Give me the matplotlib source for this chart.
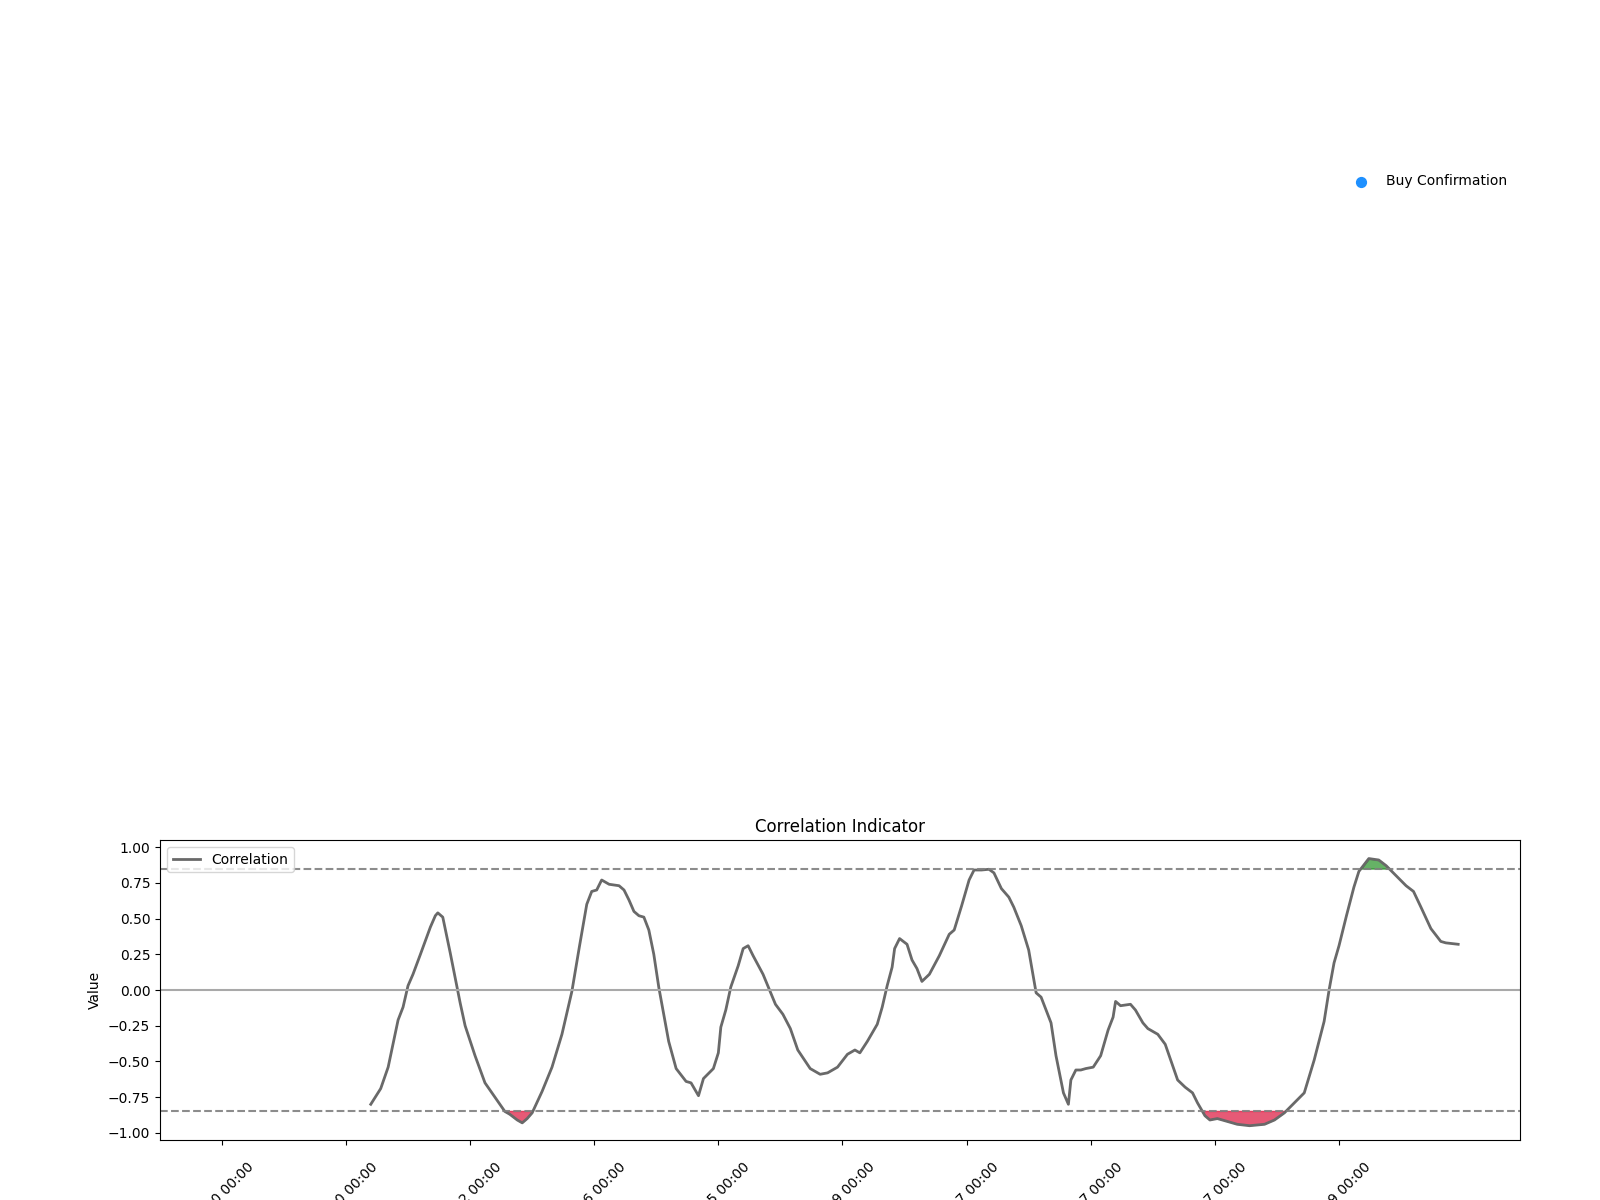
import numpy as np
import matplotlib.pyplot as plt

# ==============================================================================
#                                   DATA
# ==============================================================================

n_points = 499
upper_threshold = 0.85
lower_threshold = -0.85

# Correlation readings (bar index, value); first 60 bars are NaN (rolling window)
corr_idx = [60, 64, 67, 71, 73, 75, 77, 80, 84, 86, 87, 89, 92, 96, 98, 102,
            106, 110, 114, 116, 119, 121, 123, 125, 129, 133, 137, 141, 144,
            147, 149, 151, 153, 156, 160, 162, 164, 166, 168, 170, 172, 174,
            176, 180, 183, 187, 189, 192, 194, 198, 200, 201, 203, 205, 208,
            210, 212, 214, 218, 223, 226, 229, 232, 237, 241, 244, 248, 252,
            255, 257, 260, 264, 266, 268, 270, 271, 273, 276, 278, 280, 282,
            285, 289, 293, 295, 298, 301, 303, 306, 309, 311, 314, 317, 319,
            322, 325, 328, 330, 334, 336, 339, 341, 342, 344, 346, 348, 351,
            354, 357, 359, 360, 362, 366, 368, 371, 373, 377, 380, 382, 385,
            388, 391, 393, 396, 398, 401, 405, 409, 414, 420, 424, 428, 432,
            436, 440, 444, 446, 448, 450, 453, 456, 458, 462, 466, 469, 473,
            477, 480, 483, 487, 491, 493, 498]
corr_val = [-0.80, -0.69, -0.54, -0.21, -0.12, 0.03, 0.11, 0.25, 0.44, 0.52,
            0.54, 0.51, 0.26, -0.09, -0.25, -0.46, -0.65, -0.75, -0.85, -0.87,
            -0.91, -0.93, -0.90, -0.86, -0.71, -0.54, -0.31, -0.01, 0.30, 0.60,
            0.69, 0.70, 0.77, 0.74, 0.73, 0.70, 0.63, 0.55, 0.52, 0.51, 0.42,
            0.25, 0.02, -0.36, -0.55, -0.64, -0.65, -0.74, -0.62, -0.55, -0.44,
            -0.26, -0.14, 0.02, 0.17, 0.29, 0.31, 0.24, 0.11, -0.10, -0.17,
            -0.27, -0.42, -0.55, -0.59, -0.58, -0.54, -0.45, -0.42, -0.44,
            -0.36, -0.24, -0.12, 0.03, 0.16, 0.29, 0.36, 0.32, 0.21, 0.15,
            0.06, 0.11, 0.24, 0.39, 0.42, 0.59, 0.77, 0.84, 0.84, 0.845, 0.82,
            0.71, 0.65, 0.58, 0.45, 0.28, -0.02, -0.05, -0.23, -0.46, -0.72,
            -0.80, -0.63, -0.56, -0.56, -0.55, -0.54, -0.46, -0.28, -0.19,
            -0.08, -0.11, -0.10, -0.14, -0.23, -0.27, -0.31, -0.38, -0.48,
            -0.63, -0.68, -0.72, -0.79, -0.88, -0.91, -0.90, -0.92, -0.94,
            -0.95, -0.94, -0.91, -0.86, -0.79, -0.72, -0.49, -0.22, 0.00, 0.19,
            0.31, 0.52, 0.72, 0.83, 0.92, 0.91, 0.87, 0.80, 0.73, 0.69, 0.58,
            0.43, 0.34, 0.33, 0.32]

# Tick positions (every 50 bars) and their date labels
tick_idx = [0, 50, 100, 150, 200, 250, 300, 350, 400, 450]
tick_labels = ['01-10 00:00', '03-20 00:00', '05-22 00:00', '07-26 00:00',
               '09-25 00:00', '11-29 00:00', '01-27 00:00', '03-27 00:00',
               '05-27 00:00', '07-29 00:00']

# ==============================================================================
#                                   PLOT
# ==============================================================================

x = np.array(corr_idx)
corr = np.array(corr_val)

fig = plt.figure(figsize=(16, 12), dpi=100)

## Top panel (price chart area, nothing drawn but the legend)
ax1 = fig.add_axes([0.1, 0.35, 0.85, 0.515])
ax1.axis('off')
ax1.scatter([], [], color='dodgerblue', s=50, label='Buy Confirmation')
ax1.legend(loc='upper right', frameon=False)

## Correlation panel
ax2 = fig.add_axes([0.1, 0.05, 0.85, 0.25])
ax2.plot(x, corr, color='dimgray', linewidth=2, label='Correlation')
ax2.axhline(upper_threshold, color='gray', linestyle='--', linewidth=1.5, alpha=0.9)
ax2.axhline(lower_threshold, color='gray', linestyle='--', linewidth=1.5, alpha=0.9)
ax2.axhline(0, color='darkgray', linestyle='-', linewidth=1.5)
ax2.fill_between(x, corr, upper_threshold, where=corr > upper_threshold,
                 interpolate=True, color='green', alpha=0.6)
ax2.fill_between(x, corr, lower_threshold, where=corr < lower_threshold,
                 interpolate=True, color='crimson', alpha=0.7)
ax2.set_xlim(-0.05 * (n_points - 1), (n_points - 1) * 1.05)
ax2.set_ylim(-1.05, 1.05)
ax2.set_xticks(tick_idx)
ax2.set_xticklabels(tick_labels, rotation=45)
ax2.tick_params(axis='x', pad=10.5)
ax2.set_ylabel('Value')
ax2.set_title('Correlation Indicator')
ax2.legend(loc='upper left')

plt.savefig('out.png')
